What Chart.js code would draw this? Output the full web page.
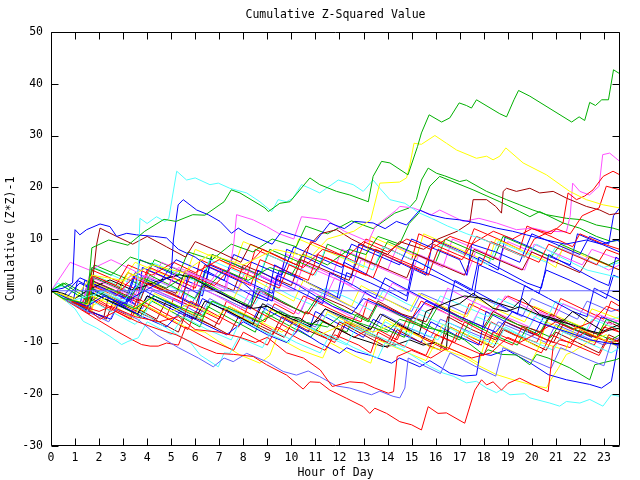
<!DOCTYPE html>
<html>
<head>
<meta charset="utf-8">
<script src="https://cdn.jsdelivr.net/npm/chart.js@4.4.1/dist/chart.umd.min.js"></script>
<style>
  html, body { margin: 0; padding: 0; background: #fff; }
</style>
</head>
<body>
<canvas id="chart" width="640" height="480"></canvas>
<script>
// Cumulative Z-squared walks, one line per day as [hour, value] vertices
const FONT = "'DejaVu Sans Mono', 'Liberation Mono', monospace";
const hourMax = 23.67;
const yTickValues = [-30, -20, -10, 0, 10, 20, 30, 40, 50];

const RED = "#ff0000", GREEN = "#00b000", BLUE = "#0000ff", MAGENTA = "#ff50ff",
      CYAN = "#50ffff", DARKRED = "#a00000", YELLOW = "#ffff00", BLACK = "#000000", SLATE = "#6060ff";

// traced lines (outliers)
const greenTop = [[0,0],[0.5,-1.5],[1.5,-2.5],[1.7,8.3],[2.4,9.8],[3.2,8.8],[3.9,11.5],[4.7,13.8],[5.2,13.4],[5.9,14.7],[6.4,14.6],[7.2,17.2],[7.5,19.5],[7.86,18.9],[8.9,16.0],[9.04,15.3],[9.52,16.9],[9.94,17.2],[10.77,21.8],[11.18,20.5],[11.88,19.2],[12.43,18.5],[13.2,17.2],[13.4,22.1],[13.75,25.0],[14.1,24.7],[14.85,22.4],[15.25,27.9],[15.41,30.5],[15.73,34.0],[16.25,32.6],[16.59,33.4],[16.98,36.3],[17.28,35.8],[17.49,35.3],[17.7,36.9],[18.67,34.2],[18.95,33.6],[19.26,36.9],[19.45,38.7],[19.92,37.6],[21.66,32.6],[21.97,33.6],[22.2,32.9],[22.41,36.4],[22.65,35.8],[22.91,36.9],[23.19,36.9],[23.4,42.7],[23.67,41.9]];
const yellowTop = [[0,0],[1,-1.5],[1.7,3],[3,2],[4.2,5],[5.5,3.5],[6.6,7],[8,5],[9.3,8],[10.8,6.5],[11.5,10],[12.6,11.5],[13.3,13.7],[13.68,20.8],[14.5,21.0],[14.79,21.8],[14.93,24.3],[15.1,28.5],[15.41,28.3],[15.97,30.0],[16.45,28.5],[16.87,27.2],[17.7,25.6],[18.12,26.0],[18.39,25.3],[18.67,26.0],[18.92,27.6],[19.64,24.7],[20.61,22.4],[21.58,19.2],[22.27,17.6],[22.97,16.6],[23.66,16.0]];
const cyanTop = [[0,0],[0.8,-2],[1.6,-1],[2.3,0],[3.0,-2],[3.6,1],[3.7,14.0],[4.0,13.0],[4.39,14.3],[4.74,13.4],[4.9,14],[5.23,23.1],[5.64,21.4],[6.0,21.8],[6.61,20.5],[6.96,20.8],[7.44,19.8],[8.14,18.9],[8.69,17.2],[9.18,15.3],[9.45,17.6],[9.8,17.2],[10.07,17.9],[10.42,20.5],[10.77,19.8],[11.18,18.9],[11.46,19.8],[11.95,21.4],[12.57,20.5],[12.99,19.2],[13.4,21.4],[13.68,19.8],[14.1,17.6],[14.72,16.9],[15.34,15.0],[15.83,14.0],[16.5,12.5],[17.3,11],[18.2,9.5],[19,8],[19.7,6.5],[20.2,9],[21.2,6.5],[22.3,4],[23.66,2.5]];
const blueHump = [[0,0],[0.7,-1.5],[1.5,-3],[2.2,-1],[3,-2.5],[3.7,-0.5],[4.5,1.5],[5.0,3],[5.09,9.8],[5.29,16.6],[5.5,17.6],[5.78,16.6],[6.06,15.6],[6.54,14.7],[7.03,13.4],[7.51,11.1],[7.79,12.1],[8.14,11.1],[8.7,10],[9.2,9],[9.6,11.5],[10.3,10.5],[11,9.5],[11.6,13.1],[12.2,12],[12.64,13.4],[13.4,13.1],[13.9,12],[14.37,13.4],[14.79,12.7],[15.34,15.6],[15.76,14.7],[16.4,14],[17.0,13.7],[17.8,13],[18.53,12.1],[19.2,11.5],[19.78,10.8],[20.61,9.8],[21.4,9],[22.27,9.8],[22.9,9],[23.52,9.8],[23.66,9.5]];
const blueEarly = [[0,0],[0.5,0.5],[0.9,1.5],[1.0,11.8],[1.2,10.8],[1.48,11.8],[2.04,12.9],[2.45,12.4],[2.73,10.5],[3.15,11.1],[3.56,10.8],[4.3,10.5],[4.81,10.2],[5.3,8],[6,6.5],[6.6,4.5],[7.3,3],[8,1.5],[8.5,-0.5],[9.2,-2],[9.4,3],[10.3,1],[11,-1],[11.7,-3],[12.5,-4.5],[13,-1.5],[14,-3.5],[15,-5.5],[15.6,-2],[16.5,-4],[17.5,-6],[18.5,-8],[19.2,-4],[20.5,-6.5],[21.5,-8],[22.4,-9.5],[23.66,-10.5]];
const redLow = [[0,0],[0.6,-1.5],[1.4,-3],[2.04,-5.5],[2.7,-4],[3.6,-6],[4.5,-7.5],[5.2,-8.5],[5.78,-9.8],[6.2,-10.8],[6.89,-12.1],[7.6,-12.3],[8.41,-12.7],[8.97,-14.3],[9.8,-16.3],[10.49,-19.0],[10.77,-17.6],[11.18,-17.7],[11.6,-19.2],[12.3,-20.8],[12.99,-22.4],[13.26,-23.7],[13.47,-22.7],[13.96,-23.7],[14.51,-25.3],[15.0,-25.9],[15.41,-26.9],[15.69,-22.4],[16.1,-23.7],[16.45,-23.6],[17.21,-25.6],[17.63,-19.2],[17.91,-17.2],[18.12,-18.2],[18.39,-17.6],[18.74,-19.2],[19.01,-17.9],[19.5,-16.9],[20.05,-18.2],[20.68,-19.5],[20.89,-10.8],[21.16,-9.5],[21.6,-10],[22.2,-8],[22.7,-9],[23.3,-7],[23.66,-8]];
const redLow2 = [[0,0],[1,-2.5],[2,-4],[2.5,-3],[3.5,-5],[4.5,-6],[5.3,-5],[6,-7.5],[7,-8],[7.86,-9],[8.5,-10],[9,-9],[9.8,-12],[10.5,-13],[11.2,-15.3],[11.7,-18.5],[12.43,-17.6],[13.0,-17.8],[13.47,-18.8],[14.03,-19.8],[14.25,-19.5],[14.4,-12.7],[15,-11.5],[15.8,-13],[16.5,-11],[17.5,-13],[18.3,-12],[19,-9],[19.5,-10],[20.3,-8],[21,-6],[21.7,-7.5],[22.5,-6],[23.1,-3],[23.66,-4]];
const slateLow = [[0,0],[0.7,-2],[1.5,-4],[2.4,-6],[2.7,-3.5],[3.6,-5.5],[4.4,-8.5],[5.3,-11],[6.13,-13.0],[6.75,-14.7],[7.2,-13],[7.58,-13.7],[8.14,-12.1],[8.97,-13.7],[9.66,-15.6],[10.21,-16.3],[10.7,-15.5],[11.18,-16.6],[11.88,-18.4],[12.43,-18.8],[13.33,-20.1],[13.68,-19.4],[14.23,-20.4],[14.51,-20.7],[14.72,-18.8],[14.86,-13.0],[15.3,-14],[16.2,-16],[16.6,-12],[17.6,-14.5],[18.5,-16.5],[18.8,-11],[19.8,-13],[20.8,-15],[21.2,-11],[22.2,-13],[23,-14.5],[23.3,-10],[23.66,-11]];
const cyanLow = [[0,0],[0.6,-1.5],[1.5,-4],[1.7,-2],[2.7,-4.5],[3.5,-6.5],[3.9,-4.5],[4.9,-7.5],[5.8,-10],[6.2,-12.4],[6.96,-14.7],[7.2,-12],[7.44,-12.1],[7.8,-9],[8.8,-11],[9.2,-7.5],[10.2,-10],[11.2,-12],[11.6,-8.5],[12.6,-11],[13.6,-13],[13.9,-10],[14.65,-11.4],[15.2,-13],[15.76,-14.6],[16.31,-15.9],[16.73,-16.5],[17.28,-17.8],[17.7,-17.5],[18.12,-18.8],[18.53,-19.7],[18.74,-19.1],[19.09,-20.1],[19.71,-19.9],[19.92,-20.7],[20.75,-21.7],[21.16,-22.3],[21.44,-21.4],[22.0,-21.7],[22.41,-21.0],[22.96,-22.3],[23.31,-20.1],[23.66,-20.4]];
const cyanEarly = [[0,0],[0.5,-1.5],[1.0,-3.5],[1.34,-5.9],[1.9,-7.2],[2.45,-8.8],[2.94,-10.4],[3.2,-9.8],[3.63,-9.1],[4.0,-6],[5,-8.5],[5.5,-5],[6.5,-7.5],[7.5,-9.5],[7.9,-5.5],[8.9,-8],[9.9,-10],[10.3,-6],[11.3,-8.5],[12.3,-10.5],[12.7,-7],[13.7,-9],[14.7,-11],[15.1,-7.5],[16.1,-9.5],[16.5,-6],[17.5,-8.5],[18.5,-10.5],[18.9,-7],[19.9,-9.5],[20.9,-11.5],[21.3,-8],[22.3,-10],[23.3,-12],[23.66,-11]];
const redEarly = [[0,0],[0.5,-1.5],[1.2,-3.5],[1.9,-5.5],[2.73,-7.8],[3.35,-9.4],[3.77,-10.4],[4.12,-10.7],[4.46,-10.7],[4.81,-10.1],[5.3,-10.5],[5.6,-7],[6.6,-9.5],[7.6,-11.5],[8,-8],[9,-10.5],[9.4,-7],[10.4,-9.5],[11.4,-11.5],[11.8,-8.5],[12.8,-10.5],[13.3,-12],[13.6,-8],[14.6,-10.5],[15.6,-12.5],[16,-8.5],[17,-10.5],[18,-12.5],[18.4,-8],[19.4,-10],[20.4,-12],[20.8,-8.5],[21.8,-10.5],[22.8,-12.5],[23.2,-9],[23.66,-10]];
const greenLow = [[0,0],[1,-2.5],[1.6,-3.5],[1.7,0.5],[2.5,-1.5],[3.5,-3.5],[4.3,-1],[5.3,-3],[6.3,-5],[6.7,-2],[7.7,-4],[8.7,-6],[9.5,-4],[10.5,-6],[11.5,-7],[12,-5],[13,-6.5],[14,-8],[14.5,-5.5],[15.5,-7],[16.5,-8],[17.2,-9.5],[17.98,-12.3],[18.18,-11.4],[18.74,-12.3],[19.36,-12.4],[19.92,-14.3],[20.2,-12.3],[20.68,-13.0],[21.58,-14.9],[22.41,-17.2],[22.62,-14.3],[22.97,-13.9],[23.52,-13.3],[23.66,-13.0]];
const blueLow = [[0,0],[0.8,-2],[1.6,-4],[2.5,-5.5],[2.8,-2.5],[3.8,-5],[4.8,-7],[5.4,-4],[6.4,-6.5],[7.3,-8.5],[8,-6],[9,-8.5],[9.8,-10],[10.3,-7.5],[11.18,-10.1],[12.0,-12.1],[12.3,-11],[12.71,-11.8],[13.3,-12.5],[14.17,-14.0],[14.5,-13],[15.34,-14.7],[15.76,-13.5],[16.59,-15.9],[17.1,-16.5],[17.7,-16.3],[17.84,-12.1],[18.3,-12.5],[18.95,-11.4],[19.92,-13.9],[20.68,-16.2],[21.44,-17.2],[22.41,-18.1],[22.9,-18.8],[23.31,-17.5],[23.59,-10.4],[23.66,-9.7]];
const yellowLow = [[0,0],[0.8,-1.5],[1.7,-3],[2.4,-1],[3.4,-3.5],[4.1,-1.5],[5,-4],[5.8,-2.5],[6.9,-5],[7.4,-3],[8.5,-5.5],[9.6,-8],[10.2,-6],[11.2,-8.5],[12.4,-6],[13.4,-8],[14.3,-6.5],[15.34,-8.9],[15.76,-11.0],[16.4,-11.5],[17.15,-12.7],[17.8,-14.5],[18.53,-16.2],[19.22,-17.2],[19.92,-18.1],[20.61,-18.8],[20.75,-17.5],[21.1,-15],[21.44,-12.3],[21.72,-11.8],[22.3,-10],[23.1,-8.5],[23.66,-10.8]];
const yellowMid = [[0,0],[0.6,-2],[1.4,-3.5],[1.7,-1],[2.7,-3],[3.4,-5.5],[3.8,-2.5],[4.8,-5],[5.8,-7.5],[6.4,-8],[7.2,-10.5],[7.86,-12.4],[8.69,-14.0],[9.1,-12.5],[9.4,-9],[10.4,-11.5],[11.3,-13],[11.6,-10],[12.6,-12.5],[13.3,-14],[13.6,-9.5],[14.6,-11.5],[15.6,-13.5],[16,-10],[17,-12],[17.8,-14],[18.1,-9],[19.1,-11.5],[20,-13.5],[20.4,-10],[21.4,-11.5],[21.8,-7],[22.8,-9],[23.66,-11]];
const redHigh = [[0,0],[0.7,-2],[1.5,-3.5],[1.7,3],[2.7,1],[3.2,5],[4.2,3],[5.1,5.5],[6,3.5],[7,6],[8,4],[8.8,8],[9.7,6],[10.5,4.5],[11.3,8],[12.3,6.5],[13,9.5],[14,7.5],[14.8,10],[15.8,8],[16.6,10.5],[17.5,9],[18.4,11.5],[19.2,10],[20,12],[20.8,11],[21.3,13.1],[21.51,18.9],[21.86,17.6],[22.2,18.3],[22.55,19.5],[22.97,22.1],[23.38,23.1],[23.66,22.4]];
const redHigh2 = [[0,0],[0.5,-1],[1.4,-3],[1.7,1],[2.7,-1],[3.4,2.5],[4.4,0.5],[5.4,-1.5],[5.8,3],[6.8,1],[7.5,4.5],[8.5,2.5],[9.5,0.5],[9.9,5],[10.9,3],[11.4,6.5],[12.4,4.5],[13.4,2.5],[13.8,7],[14.8,5],[15.7,3],[16.1,8],[17.1,6],[17.7,10.5],[18.7,8.5],[19.7,6.5],[20.1,10],[21,12],[21.6,11],[22.1,14.5],[22.8,16],[23.1,20.2],[23.66,19.5]];
const darkRedHigh = [[0,0],[0.7,-2],[1.6,-3.5],[1.9,9],[2.04,12.1],[2.73,10.5],[3.4,9],[4,10.5],[4.8,8.5],[5.6,6.5],[6,9.5],[7,7.5],[7.9,5.5],[8.3,9],[9.3,7],[10.2,5],[10.6,8],[11.2,11],[11.88,11.8],[12.5,10],[13.13,8.5],[14,7],[14.5,9.5],[15.5,8],[16.1,10],[16.9,11.5],[17.42,13.1],[17.56,17.6],[18.12,17.6],[18.5,16.3],[18.74,15.0],[18.81,19.2],[18.95,19.8],[19.36,19.2],[19.92,19.8],[20.33,18.9],[20.89,19.2],[21.44,17.9],[22.27,16.3],[22.83,15.6],[23.24,14.7],[23.66,15.0]];
const magentaHigh = [[0,0],[0.6,-1.5],[1.5,-3],[1.7,2.5],[2.7,0.5],[3.6,-1.5],[3.9,3],[4.9,1],[5.3,4.5],[6.3,2.5],[7.3,0.5],[7.6,9],[7.72,14.7],[8.41,13.7],[8.97,12.4],[9.5,11],[10.1,10],[10.42,14.3],[11.46,13.7],[12.2,11.5],[13.2,9.5],[13.5,12.5],[14.37,15.6],[14.51,16.3],[15.07,16.0],[15.83,14.7],[16.17,15.6],[17.15,13.4],[17.8,14],[18.53,13.1],[19.36,11.8],[20.05,12.1],[20.6,11.5],[21.44,11.4],[21.6,14.5],[21.7,20.8],[22.0,19.2],[22.4,18.5],[22.8,20.2],[22.95,26.3],[23.24,26.6],[23.66,25.0]];
const greenHigh = [[0,0],[0.6,-1.5],[1.4,-3],[1.7,4.5],[2.5,3],[3.3,6.5],[4.3,5],[5.3,3],[5.7,7.5],[6.7,6],[7.5,9],[8.4,7.5],[9.2,10],[10.2,8.5],[10.6,12.5],[11.5,11],[12.5,13.5],[13.4,12],[14.3,15],[14.9,16],[15.2,17.6],[15.41,21.4],[15.69,23.7],[16.04,22.7],[16.38,22.2],[17.0,21.1],[17.28,21.4],[18.12,19.2],[18.95,17.6],[19.5,16.6],[20.05,15.6],[20.61,14.7],[21.44,14.0],[22.13,13.7],[22.69,12.7],[23.38,12.1],[23.66,11.7]];
const greenHigh2 = [[0,0],[0.5,1.5],[1,0],[1.7,-2],[2.4,0.5],[3.3,-1.5],[3.8,2.5],[4.8,0.5],[5.6,3],[6.6,1],[7.2,4],[8.2,2],[9.1,4.5],[10,3],[10.5,7],[11.5,5],[12.4,8],[13.1,7],[13.6,10.5],[14.5,9],[14.9,13],[15.3,15],[15.76,20.2],[16.17,22.1],[17.56,19.5],[18.67,17.2],[19.5,15.3],[19.92,14.3],[20.33,15.3],[21.3,13.1],[21.99,12.1],[22.69,10.5],[23.31,9.5],[23.66,9.8]];
const blackA = [[0,0],[0.5,-0.5],[1,-1.5],[1.34,-0.5],[1.55,0.2],[2.45,2.1],[2.94,1.1],[3.35,0.2],[3.84,0.8],[4.39,1.8],[4.81,2.4],[5.36,3.1],[5.92,2.4],[6.75,0.2],[7.58,-1.8],[8.41,-3.4],[9.0,-3.0],[9.66,-4.7],[10.35,-5.3],[10.77,-6.6],[11.18,-5.6],[12.57,-8.9],[13.82,-10.8],[14.3,-10.5],[14.93,-9.5],[15.48,-10.5],[16.0,-10],[16.45,-11.1],[16.59,-3.1],[17.0,-2.5],[17.56,-0.5],[18.39,-3.4],[18.95,-4.0],[19.5,-3.1],[20.61,-5.3],[21.72,-6.6],[22.27,-7.6],[22.83,-8.2],[23.24,-7.6],[23.66,-7.2]];
const blackB = [[0,0],[0.8,-2],[1.6,-3.5],[1.75,-0.5],[2.7,-2.5],[3.6,-4.5],[4,-1],[5,-3],[6,-5.5],[6.4,-2],[7.4,-4],[8.4,-6.5],[8.8,-2.5],[9.8,-5],[10.8,-7],[11.4,-3.5],[12.4,-5.5],[13.3,-7.5],[13.7,-4.5],[14.7,-7],[15.3,-8.5],[15.6,-4],[16.6,-2],[17.2,-1],[18,-1.5],[18.53,-2.3],[19.22,-3.3],[19.6,-1.5],[20.33,-4.6],[21.3,-5.9],[21.7,-4],[22.41,-6.2],[22.97,-7.8],[23.66,-6.5]];

// the dense middle band
const band01 = [[0,0],[0.7,-2],[1.5,-4],[1.7,-1],[2.6,-3.5],[3.3,-5],[3.6,-1.5],[4.6,-4],[5.4,-6],[5.8,-2],[6.8,-4.5],[7.8,-7],[8.2,-3],[9.2,-5.5],[10.2,-8],[10.6,-4],[11.6,-6.5],[12.6,-9],[13.4,-7],[14.4,-9.5],[14.8,-5.5],[15.8,-8],[16.8,-10],[17.2,-6],[18.2,-8.5],[19.2,-10.5],[19.6,-7],[20.6,-9.5],[21.6,-11],[22,-7.5],[23,-9.5],[23.66,-10.5]];
const band02 = [[0,0],[0.4,1.2],[1.1,-0.8],[1.6,-2],[1.8,2.5],[2.8,0.5],[3.6,-1.5],[4.1,3],[5,1],[6,-1.5],[6.4,1.5],[7.4,-1],[8.3,-3],[8.6,0.5],[9.6,-2],[10.6,-4.5],[11.1,-1],[12.1,-3.5],[13.2,-6],[13.6,-2.5],[14.6,-5],[15.6,-7],[16.1,-3],[17.1,-5.5],[18,-7.5],[18.4,-4.5],[19.4,-6.5],[20.3,-8.5],[20.7,-5],[21.8,-7.5],[22.7,-9],[23.1,-5.5],[23.66,-6.5]];
const band03 = [[0,0],[0.6,-1.5],[1.2,1.5],[2.2,-1],[3.1,-3],[3.5,1],[4.5,-1.5],[5.4,-3.5],[5.7,3],[6.7,0.5],[7.7,-2],[8.3,-3.5],[8.6,4],[9.6,1.5],[10.7,-1],[11.3,-2.5],[11.6,3.5],[12.6,1],[13.5,-1.5],[13.9,2.5],[14.9,0],[15.9,-2.5],[16.5,-4],[16.8,2],[17.8,-0.5],[18.8,-3],[19.4,-4.5],[19.7,1],[20.7,-1.5],[21.7,-4],[22.3,-5],[22.6,0.5],[23.66,-2]];
const band04 = [[0,0],[0.3,2],[0.8,5.5],[1.6,4],[2.5,6],[3.4,4],[4.2,2],[4.6,5.5],[5.6,3.5],[6.5,1],[7,4],[8,2],[8.9,-0.5],[9.4,3],[10.4,1],[11.4,-1.5],[11.8,2.5],[12.8,0],[13.8,-2],[14.2,1.5],[15.2,-1],[16.2,-3],[16.5,0.5],[17.5,-2],[18.5,-4],[18.9,-1],[19.9,-3.5],[20.9,-5.5],[21.3,-2.5],[22.3,-4.5],[23.3,-6.5],[23.66,-5.5]];
const band05 = [[0,0],[0.7,-1.5],[1.4,-3],[2,0],[3,-2],[3.9,-4.5],[4.3,-1],[5.3,-3.5],[6.2,-5.5],[6.6,-2],[7.6,-4],[8.6,-6.5],[9,-3],[10,-5.5],[11,-7.5],[11.5,-4.5],[12.5,-7],[13.5,-9],[13.9,-6],[14.9,-8.5],[15.3,-4.5],[16.3,-6.5],[17.3,-9],[17.7,-5],[18.7,-7],[19.7,-9],[20.1,-5],[21.1,-7.5],[22.1,-9],[22.5,-5.5],[23.66,-7.5]];
const band06 = [[0,0],[0.5,-1],[1.5,-3],[1.7,2],[2.7,0],[3.7,-2],[4,1.5],[5,-0.5],[6,-3],[6.3,1],[7.3,-1],[8.3,-3.5],[8.7,0],[9.7,-2.5],[10.7,-4.5],[11.2,-1],[12.2,-3],[13.2,-5.5],[13.6,-2],[14.6,-4.5],[15.6,-6],[16,-2.5],[17,-5],[18,-7],[18.4,-4],[19.4,-6.5],[20.4,-8],[20.8,-4.5],[21.8,-7],[22.8,-8.5],[23.2,-6],[23.66,-7]];
const band07 = [[0,0],[0.6,-1.5],[1.4,-3],[1.8,1.5],[2.8,-0.5],[3.2,3.5],[4.2,1.5],[5.2,-1],[5.6,3],[6.6,1],[7.6,-1.5],[8.1,3],[9.1,0.5],[10.1,-2],[10.5,2],[11.5,-0.5],[12.5,-3],[12.9,1],[13.9,-1.5],[14.9,-4],[15.3,-0.5],[16.3,-3],[17.3,-5],[17.7,-1.5],[18.7,-4],[19.7,-6],[20.1,-3],[21.1,-5],[22.1,-7],[22.5,-3.5],[23.66,-5.5]];
const band08 = [[0,0],[0.5,-1],[1.2,-3],[1.5,-1],[2.5,-3.5],[3.3,-5.5],[3.7,-2.5],[4.7,-5],[5.7,-7.5],[6,-4],[7,-6.5],[7.4,-3],[8.4,-5.5],[9.4,-8],[9.8,-5],[10.8,-7.5],[11.8,-10],[12.2,-6],[13.2,-8.5],[14.2,-10.5],[14.6,-7],[15.6,-9.5],[16.5,-11.5],[16.9,-8],[17.9,-10.5],[18.3,-6],[19.3,-8.5],[20.2,-10],[20.6,-6.5],[21.6,-8.5],[22.6,-10.5],[23,-7],[23.66,-8]];
const band09 = [[0,0],[0.4,-1],[0.9,-2.5],[1.1,2],[2.1,-0.5],[3.1,-2.5],[3.5,3],[4.5,0.5],[5.5,-1.5],[6.1,-3],[6.4,4],[7.4,1.5],[8.4,-1],[9,-2],[9.3,5],[10.3,2.5],[11.3,0],[11.9,-1.5],[12.2,5.5],[13.2,3],[14.2,0.5],[14.8,-1],[15.1,6],[16.1,3.5],[17.1,1],[17.5,0],[17.8,6.5],[18.8,4],[19.8,1.5],[20.4,0.5],[20.7,7],[21.7,4.5],[22.7,2],[23.2,1],[23.5,6.5],[23.66,6]];
const band10 = [[0,0],[0.5,-1.5],[1.4,-3.5],[1.7,-0.5],[2.7,-2.5],[3.7,-5],[4.2,-2],[5.2,-4.5],[6.2,-7],[6.5,-3],[7.5,-5.5],[8.5,-8],[8.8,-4],[9.8,-6.5],[10.8,-9],[11.3,-6],[12.3,-8],[12.7,-4.5],[13.7,-7],[14.7,-9],[15,-5],[16,-7.5],[17,-9.5],[17.4,-6],[18.4,-8.5],[19.4,-10.5],[19.8,-7],[20.8,-9],[21.3,-5.5],[22.3,-7.5],[23.3,-9.5],[23.66,-8.5]];
const band11 = [[0,0],[0.6,-1.5],[1.3,-3],[1.5,1],[2.5,-1],[3.3,-3],[3.6,1.5],[4.6,-0.5],[5.5,-2.5],[5.9,1.5],[6.9,-1],[7.9,-3.5],[8.3,0],[9.3,-2],[10.3,-4.5],[10.7,-1],[11.7,-3],[12.7,-5.5],[13.1,-2],[14.1,-4],[15.1,-6],[15.5,-2.5],[16.5,-4.5],[17.5,-6.5],[17.9,-3],[18.9,-5],[19.9,-7],[20.3,-4],[21.3,-6],[22.3,-8],[22.7,-4.5],[23.66,-6]];
const band12 = [[0,0],[0.3,1.5],[0.8,0],[1.6,-2],[1.8,3],[2.8,1],[3.7,-1.5],[4.1,2.5],[5.1,0.5],[6.1,-2],[6.5,2],[7.5,0],[8.5,-2.5],[9,1.5],[10,-1],[11,-3],[11.4,0.5],[12.4,-1.5],[13.4,-4],[13.8,0],[14.8,-2.5],[15.8,-4.5],[16.2,-1],[17.2,-3],[18.2,-5],[18.6,-1.5],[19.6,-3.5],[20.6,-5.5],[21,-2],[22,-4],[23,-6],[23.66,-5]];
const band13 = [[0,0],[0.7,-2],[1.6,-4],[2.2,-5],[2.4,-1],[3.4,-3],[4.4,-5.5],[4.8,-2],[5.8,-4.5],[6.8,-7],[7.2,-3.5],[8.2,-6],[9.2,-8.5],[9.6,-5],[10.6,-7.5],[11.6,-9.5],[12,-6],[13,-8.5],[14,-11],[14.4,-7.5],[15.4,-10],[16.2,-11.5],[16.5,-5],[17.5,-7.5],[18.5,-9.5],[18.9,-6],[19.9,-8],[20.9,-10],[21.3,-6.5],[22.3,-8.5],[23.3,-10],[23.66,-9.5]];
const band14 = [[0,0],[0.5,-1.5],[1.3,-3.5],[1.7,-4],[1.9,0.5],[2.9,-2],[3.9,-4],[4.3,-0.5],[5.3,-3],[6.3,-5.5],[6.7,-2],[7.7,-4.5],[8.7,-7],[9.1,-3.5],[10.1,-6],[11.1,-8],[11.5,-4],[12.5,-6.5],[13.5,-9],[13.9,-5.5],[14.9,-8],[15.9,-10],[16.3,-6.5],[17.3,-8.5],[18.3,-10.5],[18.7,-7],[19.7,-9.5],[20.3,-11],[20.6,-6],[21.6,-8],[22.6,-10],[23,-6.5],[23.66,-7.5]];
const band15 = [[0,0],[0.5,-1.5],[1.3,-3.5],[1.6,0],[2.6,-2.5],[3.6,-4.5],[4,-1],[5,-3.5],[5.9,-5.5],[6.3,-1.5],[7.3,-4],[8.3,-6.5],[8.7,-3],[9.7,-5.5],[10.7,-8],[11,-4],[12,-6.5],[13,-9],[13.4,-5.5],[14.4,-8],[15.4,-10],[15.8,-6],[16.8,-8.5],[17.8,-10.5],[18.1,-4],[19.1,-6.5],[20.1,-8.5],[20.5,-5],[21.5,-7],[22.5,-9],[22.9,-5],[23.66,-6.5]];
const band16 = [[0,0],[0.7,-2],[1.6,-4],[1.8,1],[2.8,-1],[3.8,-3.5],[4.2,0],[5.2,-2],[6.2,-4.5],[6.6,-1.5],[7.6,-4],[8.6,-6],[9,-2.5],[10,-5],[11,-7],[11.4,-3.5],[12.4,-6],[13.4,-8],[13.8,-4.5],[14.8,-7],[15.8,-9],[16.2,-5.5],[17.2,-7.5],[18.2,-9.5],[18.6,-6],[19.6,-8],[20.6,-10],[21,-6.5],[22,-8.5],[23,-10.5],[23.66,-9]];
const band17 = [[0,0],[0.6,-1.5],[1.5,-3.5],[1.7,4],[2.7,2],[3.7,0],[4.1,4.5],[5.1,2.5],[6,0.5],[6.4,5],[7.4,3],[8.3,1],[8.7,6],[9.7,4],[10.7,2],[11.1,7],[12.1,5],[13.1,3],[13.5,8],[14.5,6],[15.5,4],[15.9,9],[16.9,7],[17.9,5],[18.3,9.5],[19.3,7.5],[20.3,5.5],[20.7,9],[21.7,7],[22.7,5],[23.1,8],[23.66,7]];
const band18 = [[0,0],[0.5,-1],[1.2,2.5],[2.2,0.5],[3.1,-1.5],[3.5,3.5],[4.5,1.5],[5.2,6],[6.2,4],[7.2,2],[7.6,7],[8.6,5],[9.6,3],[10.1,8.5],[11.1,6.5],[12.1,4.5],[12.5,9],[13.5,7],[14.5,5],[15,10],[16,8],[17,6],[17.3,3],[17.5,9],[18.5,7.5],[19.5,5.5],[20,11],[21,9],[22,7],[22.4,10.5],[23.2,9],[23.4,14.5],[23.66,16]];
const band19 = [[0,0],[0.6,-1.5],[1.5,-3],[1.7,1.5],[2.7,-0.5],[3.2,3.5],[4.2,1.5],[5.2,-0.5],[5.6,4],[6.6,2],[7.6,0],[8,5],[9,3],[10,1],[10.4,6],[11.4,4],[12.4,2],[12.8,6.5],[13.8,4.5],[14.8,2.5],[15.2,7],[16.2,5],[17.2,3],[17.6,8],[18.6,6],[19.6,4],[20,7.5],[21,5.5],[22,3.5],[22.4,6.5],[23.66,4]];
const band20 = [[0,0],[0.5,1],[1,-0.5],[1.6,-2],[1.8,4.5],[2.8,2.5],[3.8,0.5],[4.2,5.5],[5.2,3.5],[6.2,1.5],[6.6,6],[7.6,4],[8.6,2],[9,7],[10,5],[11,3],[11.4,8],[12.4,6],[13.4,4],[13.8,8.5],[14.8,6.5],[15.8,4.5],[16.2,9],[17.2,7],[18.2,5],[18.6,9.5],[19.6,7.5],[20.6,5.5],[21,8.5],[22,6.5],[23,4.5],[23.66,5.5]];
const band21 = [[0,0],[0.4,-1],[1,-2.5],[1.7,-3.5],[1.9,1],[2.9,-1],[3.3,3],[4.3,1],[5.3,-1],[5.7,3.5],[6.7,1.5],[7.7,-0.5],[8.1,4],[9.1,2],[10.1,0],[10.5,5],[11.5,3],[12.5,1],[12.9,6],[13.9,4],[14.9,2],[15.3,7],[16.3,5],[17.3,3],[17.7,8],[18.7,6],[19.7,4],[20.1,9],[21.1,7],[22.1,5],[22.5,8],[23.66,6]];
const band22 = [[0,0],[0.6,1.5],[1.4,-0.5],[1.8,5],[2.8,3],[3.8,1],[4.3,6],[5.3,4],[6.3,2],[6.7,7],[7.7,5],[8.7,3],[9.1,8],[10.1,6],[11.1,4],[11.5,9],[12.5,7],[13.5,5],[14,9.5],[15,7.5],[16,5.5],[16.4,10],[17.4,8],[18.4,6],[18.8,10.5],[19.8,8.5],[20.8,6.5],[21.2,9],[22.2,7],[23.2,5],[23.66,6]];
const band23 = [[0,0],[0.6,-1.5],[1.5,-3],[1.8,3],[2.8,1],[3.5,5.5],[4.5,3.5],[5.5,1.5],[6,8],[7,6],[7.6,4.5],[8,9.5],[9,7.5],[10,5.5],[10.3,10],[11.3,8],[12.3,6],[13,4.5],[13.3,10.5],[14.3,8.5],[15.2,6.5],[15.5,11],[16.5,9],[17.5,7],[18.2,5.5],[18.5,10],[19.5,8],[20.5,6],[21,4.5],[21.3,8.5],[22.3,6.5],[23.66,4]];
const band24 = [[0,0],[0.4,-1],[1.1,-3],[1.6,-4.5],[1.8,-2],[2.5,-4],[3,-1],[4,-3],[4.8,-5],[5.1,-1.5],[6.1,-3.5],[7,-5.5],[7.3,-2],[8.1,-4],[8.9,-6],[9.3,-2.5],[10.1,-4.5],[10.5,-1],[11.4,-3],[12.3,-5],[12.9,-6],[13.2,-1.5],[14.1,-3.5],[15,-5.5],[15.4,-2],[16.3,-4],[17.1,-6],[17.4,-2.5],[18.3,-4.5],[19,-1],[20,-3],[20.9,-5],[21.2,-1.5],[22.1,-3.5],[23,-5.5],[23.3,-2],[23.66,-3]];
const band25 = [[0,0],[0.5,-1.5],[1.2,-3],[1.4,2],[2.4,0],[3.3,-2],[3.6,-3],[3.8,4.5],[4.8,2.5],[5.7,0.5],[6.3,-1],[6.6,5],[7.6,3],[8.5,1],[9.2,-0.5],[9.5,4],[10.5,2],[11.4,0],[12,-1.5],[12.3,3.5],[13.3,1.5],[14.2,-0.5],[14.8,-2],[15.1,4.5],[16.1,2.5],[17,0.5],[17.6,-1],[17.8,5],[18.8,3],[19.7,1],[20.3,-0.5],[20.6,4],[21.6,2],[22.5,0],[23.1,-1.5],[23.4,3],[23.66,2.5]];
const band26 = [[0,0],[0.6,-1.5],[1.5,-3.5],[2.3,-5.5],[2.6,-2],[3.6,-4],[4.5,-6],[5.3,-8],[5.6,-4.5],[6.6,-6.5],[7.4,-8.5],[7.8,-5],[8.8,-7],[9.7,-9],[10.1,-5.5],[11,-7.5],[11.9,-9.5],[12.3,-6],[13.2,-8],[14,-10],[14.4,-6.5],[15.3,-8.5],[16.2,-10.5],[16.6,-7],[17.5,-9],[18.4,-11],[18.8,-7.5],[19.7,-9.5],[20.6,-11.5],[21,-8],[21.9,-10],[22.8,-12],[23.2,-8.5],[23.66,-9.5]];
const band27 = [[0,0],[0.5,-1],[1.3,-2.5],[1.6,1.5],[2.6,-0.5],[3.5,-2.5],[3.9,1],[4.9,-1],[5.8,-3],[6.2,0.5],[7.2,-1.5],[8.1,-3.5],[8.5,0],[9.5,-2],[10.4,-4],[10.8,0.5],[11.8,-1.5],[12.7,-3.5],[13.1,0],[14.1,-2],[15,-4],[15.4,-0.5],[16.4,-2.5],[17.3,-4.5],[17.7,-1],[18.7,-3],[19.6,-5],[20,-1.5],[21,-3.5],[21.9,-5.5],[22.3,-2],[23.3,-4],[23.66,-3.5]];
const band28 = [[0,0],[0.5,-1.5],[1.6,-3.5],[1.75,3],[2.7,1],[3.6,-1],[4,4],[5,2],[5.9,0],[6.2,6],[7.2,4],[8.1,2],[8.5,8],[9.5,6],[10.4,4],[10.8,9.5],[11.8,7.5],[12.7,5.5],[13.1,10],[14.1,8],[15,6],[15.3,11],[16.3,9],[17.2,7],[17.6,12],[18.6,10],[19.5,8],[19.8,12.5],[20.8,10.5],[21.7,8.5],[22,11],[23,9],[23.66,8]];
const band29 = [[0,0],[0.6,-1.5],[1.5,-3],[1.65,2],[2.6,0],[3.4,-2],[3.7,6],[4.7,4],[5.6,2],[6.4,0.5],[6.7,7],[7.7,5],[8.6,3],[9.5,1],[9.8,8],[10.8,6],[11.7,4],[12.5,2.5],[12.8,9],[13.8,7],[14.7,5],[15.6,3],[15.9,10],[16.9,8],[17.8,6],[18.6,4],[18.9,10.5],[19.9,8.5],[20.8,6.5],[21.6,5],[21.9,11],[22.9,9],[23.66,7.5]];
const band30 = [[0,0],[0.5,-1],[1.3,-2.5],[1.6,3],[2.6,1],[3.5,-1],[3.8,2.5],[4.8,0.5],[5.3,4],[6.3,2],[7.2,0],[7.5,5.5],[8.5,3.5],[9.4,1.5],[9.8,7],[10.8,5],[11.7,3],[12.1,8],[13.1,6],[14,4],[14.4,8.5],[15.4,6.5],[16.3,4.5],[16.7,10],[17.7,8],[18.6,6],[19,9.5],[20,7.5],[20.9,5.5],[21.3,8],[22.3,6],[23.2,4],[23.66,5]];

const zeroLine = [[0,0],[hourMax,0]];

const seriesList = [
  [greenTop, GREEN], [yellowTop, YELLOW], [cyanTop, CYAN], [blueHump, BLUE], [blueEarly, BLUE],
  [redLow, RED], [redLow2, RED], [slateLow, SLATE], [cyanLow, CYAN], [cyanEarly, CYAN],
  [redEarly, RED], [greenLow, GREEN], [blueLow, BLUE], [yellowLow, YELLOW], [yellowMid, YELLOW],
  [redHigh, RED], [redHigh2, RED], [darkRedHigh, DARKRED], [magentaHigh, MAGENTA], [greenHigh, GREEN],
  [greenHigh2, GREEN], [blackA, BLACK], [blackB, BLACK],
  [band01, RED], [band02, GREEN], [band03, BLUE], [band04, MAGENTA], [band05, CYAN],
  [band06, DARKRED], [band07, YELLOW], [band08, RED], [band09, BLUE], [band10, GREEN],
  [band11, MAGENTA], [band12, CYAN], [band13, DARKRED], [band14, YELLOW], [band15, BLUE],
  [band16, SLATE], [band17, RED], [band18, BLUE], [band19, DARKRED], [band20, CYAN],
  [band21, MAGENTA], [band22, GREEN], [band23, YELLOW], [band24, RED], [band25, BLUE],
  [band26, DARKRED], [band27, SLATE], [band28, RED], [band29, BLUE], [band30, MAGENTA]
];

const toXY = pts => pts.map(p => ({ x: p[0], y: p[1] }));

// zero line first so it is painted on top
const datasets = [{ data: toXY(zeroLine), borderColor: "#6464ff", borderWidth: 1 }].concat(
  seriesList.map(s => ({ data: toXY(s[0]), borderColor: s[1], borderWidth: 1 }))
);

// frame, inward ticks on all four sides, and the title
const framePlugin = {
  id: "frame",
  afterDraw(chart) {
    const { ctx, chartArea: a, scales } = chart;
    const L = Math.round(a.left) + 0.5, R = Math.round(a.right) - 0.5;
    const T = Math.round(a.top) + 0.5, B = Math.round(a.bottom) - 0.5;
    ctx.save();
    ctx.strokeStyle = "#000";
    ctx.lineWidth = 1;
    ctx.beginPath();
    ctx.rect(L, T, R - L, B - T);
    scales.x.ticks.forEach(t => {
      const px = Math.round(scales.x.getPixelForValue(t.value)) + 0.5;
      ctx.moveTo(px, B); ctx.lineTo(px, B - 7);
      ctx.moveTo(px, T); ctx.lineTo(px, T + 7);
    });
    scales.y.ticks.forEach(t => {
      const py = Math.round(scales.y.getPixelForValue(t.value)) + 0.5;
      ctx.moveTo(L, py); ctx.lineTo(L + 7, py);
      ctx.moveTo(R, py); ctx.lineTo(R - 7, py);
    });
    ctx.stroke();
    ctx.fillStyle = "#000";
    ctx.font = "11.5px " + FONT;
    ctx.textAlign = "center";
    ctx.textBaseline = "middle";
    ctx.fillText("Cumulative Z-Squared Value", (a.left + a.right) / 2, 15.5);
    ctx.restore();
  }
};

new Chart(document.getElementById("chart"), {
  type: "line",
  data: { datasets },
  options: {
    responsive: false,
    animation: false,
    events: [],
    layout: { padding: { top: 32, right: 20, left: 0, bottom: 0 } },
    elements: { point: { radius: 0 }, line: { tension: 0 } },
    plugins: { legend: { display: false }, tooltip: { enabled: false } },
    scales: {
      x: {
        type: "linear",
        min: 0,
        max: hourMax,
        grid: { display: false, drawTicks: false },
        border: { display: false },
        ticks: {
          stepSize: 1, includeBounds: false, autoSkip: false, maxRotation: 0,
          padding: 5, color: "#000", font: { family: FONT, size: 11.5 }
        },
        title: { display: true, text: "Hour of Day", color: "#000", padding: 0, font: { family: FONT, size: 11.5 } },
        afterFit: s => { s.height = 34; }
      },
      y: {
        min: -30,
        max: 50,
        grid: { display: false, drawTicks: false },
        border: { display: false },
        afterBuildTicks: s => { s.ticks = yTickValues.map(v => ({ value: v })); },
        ticks: { padding: 8, color: "#000", font: { family: FONT, size: 11.5 } },
        title: { display: true, text: "Cumulative (Z*Z)-1", color: "#000", padding: { top: 4, bottom: 0 }, font: { family: FONT, size: 11.5 } },
        afterFit: s => { s.width = 51; }
      }
    }
  },
  plugins: [framePlugin]
});
</script>
</body>
</html>
